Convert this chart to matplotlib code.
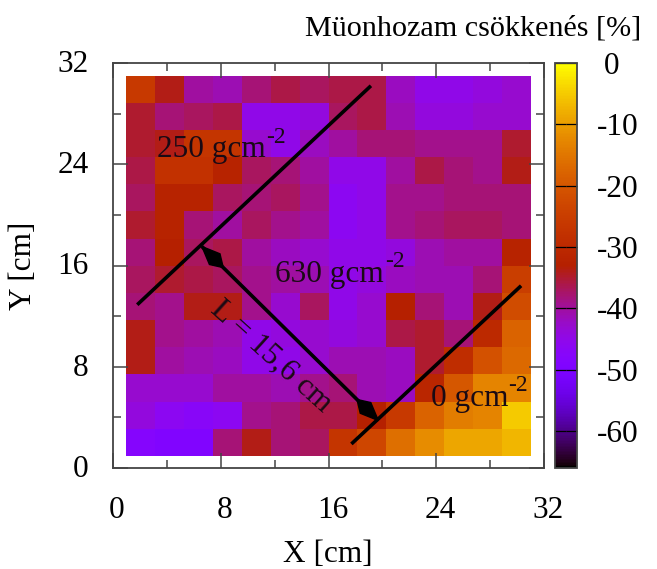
import numpy as np
import matplotlib
matplotlib.use("Agg")
import matplotlib.pyplot as plt
from matplotlib.patches import Polygon
from matplotlib.ticker import MultipleLocator
from matplotlib.transforms import ScaledTranslation

plt.rcParams['font.family'] = ['Liberation Serif', 'DejaVu Serif']

# muon yield reduction [%], top row first
reduction = [
    [-26, -34, -40, -41, -38, -36, -37, -36, -36, -42, -45, -45, -44, -43],
    [-35, -38, -37, -36, -45, -45, -44, -37, -36, -41, -44, -44, -43, -43],
    [-35, -34, -27, -27, -43, -45, -42, -40, -38, -38, -39, -39, -39, -35],
    [-36, -28, -28, -32, -37, -38, -40, -45, -45, -40, -36, -38, -39, -34],
    [-37, -32, -32, -37, -38, -37, -39, -46, -45, -39, -39, -38, -38, -38],
    [-35, -32, -38, -40, -37, -39, -40, -46, -45, -39, -38, -37, -37, -38],
    [-38, -33, -37, -36, -40, -42, -43, -45, -45, -44, -41, -40, -40, -32],
    [-37, -35, -36, -37, -39, -40, -41, -45, -44, -42, -41, -41, -38, -25],
    [-38, -39, -34, -34, -39, -43, -37, -45, -43, -33, -38, -41, -34, -22],
    [-34, -39, -40, -41, -45, -44, -43, -44, -43, -36, -35, -38, -30, -18],
    [-34, -40, -41, -42, -45, -45, -43, -41, -41, -42, -35, -29, -21, -17],
    [-43, -43, -43, -40, -40, -41, -39, -38, -41, -42, -31, -20, -13, -13],
    [-44, -46, -47, -46, -39, -38, -36, -36, -33, -26, -18, -14, -13, -5],
    [-48, -49, -49, -38, -34, -38, -37, -27, -23, -16, -12, -9, -9, -7],
]
x_ticks = [0, 8, 16, 24, 32]
y_ticks = [0, 8, 16, 24, 32]
cb_ticks = [0, -10, -20, -30, -40, -50, -60]
cb_labels = [' 0', '-10', '-20', '-30', '-40', '-50', '-60']

line_250 = ([1.8, 19.15], [12.9, 30.2])
line_0 = ([17.7, 30.3], [1.9, 14.4])
line_L = ([6.6, 19.7], [17.5, 3.75])

W, H = 657, 569
frame = '#444444'
text_dark = '#1a0a14'
fs = 22.5

fig = plt.figure(figsize=(W / 100, H / 100), dpi=100)
ax = fig.add_axes([113 / W, 1 - 468 / H, 431 / W, 405 / H])
cax = fig.add_axes([555 / W, 1 - 468 / H, 22 / W, 405 / H])

x_edges = np.linspace(1, 31, 15)
y_edges = np.linspace(31, 0.95, 15)
mesh = ax.pcolormesh(x_edges, y_edges, np.array(reduction), cmap='gnuplot', vmin=-66, vmax=0)

ax.set_xlim(0, 32)
ax.set_ylim(0, 32)
ax.set_xticks(x_ticks)
ax.set_yticks(y_ticks)
ax.xaxis.set_minor_locator(MultipleLocator(4))
ax.yaxis.set_minor_locator(MultipleLocator(4))
ax.tick_params(which='major', direction='in', top=True, right=True, length=11, width=1.1,
               color=frame, labelsize=fs)
ax.tick_params(which='minor', direction='in', top=True, right=True, length=6, width=1.1, color=frame)
ax.tick_params(axis='x', which='major', pad=20)
ax.tick_params(axis='y', which='major', pad=17.5)
for s in ax.spines.values():
    s.set_color(frame)
    s.set_linewidth(1.3)

# gnuplot put the tick labels slightly off the ticks
shift_x = ScaledTranslation(4 / 100, 0, fig.dpi_scale_trans)
shift_y = ScaledTranslation(0, 2 / 100, fig.dpi_scale_trans)
for lab in ax.get_xticklabels():
    lab.set_transform(lab.get_transform() + shift_x)
for lab in ax.get_yticklabels():
    lab.set_transform(lab.get_transform() + shift_y)

ax.set_xlabel('X [cm]', fontsize=fs, va='baseline')
ax.xaxis.set_label_coords(0.498, -0.231)
ax.set_ylabel('Y [cm]', fontsize=fs)
ax.yaxis.set_label_coords(-0.174, 0.5)

cb = fig.colorbar(mesh, cax=cax)
cb.set_ticks(cb_ticks)
cb.set_ticklabels(cb_labels)
cb.ax.tick_params(direction='in', left=True, right=True, length=8, width=0.9, color='black',
                  labelsize=fs, pad=14)
cb.outline.set_edgecolor(frame)
cb.outline.set_linewidth(1.3)

for xs, ys in (line_250, line_0, line_L):
    ax.plot(xs, ys, color='black', lw=2.6, solid_capstyle='butt')

# kite shaped arrow heads, drawn in pixel scale so they stay symmetric
sx, sy = 431 / 32, 405 / 32


def kite(tip, other):
    tip = np.array([tip[0] * sx, tip[1] * sy])
    other = np.array([other[0] * sx, other[1] * sy])
    d = (other - tip) / np.linalg.norm(other - tip)
    n = np.array([-d[1], d[0]])
    pts = [tip, tip + d * 18 + n * 7.5, tip + d * 30, tip + d * 18 - n * 7.5]
    return [(p[0] / sx, p[1] / sy) for p in pts]


start = (line_L[0][0], line_L[1][0])
end = (line_L[0][1], line_L[1][1])
ax.add_patch(Polygon(kite(start, end), color='black', zorder=4))
ax.add_patch(Polygon(kite(end, start), color='black', zorder=4))

ax.text(3.3, 24.6, '250 gcm', fontsize=fs, color=text_dark, va='baseline')
ax.text(11.4, 25.7, '-2', fontsize=17, color=text_dark, va='baseline')
ax.text(12.0, 14.7, '630 gcm', fontsize=fs, color=text_dark, va='baseline')
ax.text(20.2, 15.9, '-2', fontsize=17, color=text_dark, va='baseline')
ax.text(23.6, 4.9, '0 gcm', fontsize=fs, color=text_dark, va='baseline')
ax.text(29.3, 6.1, '-2', fontsize=17, color=text_dark, va='baseline')
ax.text(11.73, 8.77, 'L = 15,6 cm', fontsize=fs, color=text_dark, rotation=-42,
        rotation_mode='anchor', va='center', ha='center')

fig.text(641 / W, 1 - 28 / H, 'Müonhozam csökkenés [%]', fontsize=21.7, ha='right', va='center')

fig.savefig('out.png', dpi=100)
